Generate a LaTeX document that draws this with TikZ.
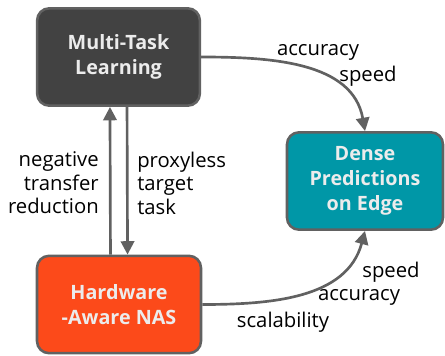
\documentclass[tikz,border=0pt]{standalone}
\usepackage{fontspec}
\setmainfont{Open Sans}
\usetikzlibrary{arrows.meta,positioning}
\definecolor{boxgray}{RGB}{66,66,66}
\definecolor{edgegray}{RGB}{97,97,97}
\definecolor{nasorange}{RGB}{252,74,26}
\definecolor{edgeteal}{RGB}{0,151,167}
\definecolor{boxtext}{RGB}{236,236,236}
\tikzset{
  block/.style={draw=edgegray,line width=1.9pt,rounded corners=9pt,
    minimum width=122pt,minimum height=73pt,align=center,text=boxtext,
    font=\fontsize{14.8}{18.8}\selectfont\bfseries},
  link/.style={draw=edgegray,line width=2pt,-{Triangle[length=10pt,width=10pt]}},
  tag/.style={font=\fontsize{15.2}{17.6}\selectfont,text=black,inner sep=0pt}
}
\begin{document}
\begin{tikzpicture}[x=0.75pt,y=-0.75pt]
\useasboundingbox (0,0) rectangle (445,356);
%% Boxes
\node[block,fill=boxgray] (mtl) at (118.5,57){Multi-Task\\Learning};
\node[block,fill=nasorange,minimum width=123pt] (nas) at (119,304.5){Hardware\\-Aware NAS};
\node[block,fill=edgeteal,minimum width=117pt] (dense) at (365,181){Dense\\Predictions\\on Edge};
%% Arrows
\draw[link] ([xshift=-6.4pt]nas.north) -- ([xshift=-6.4pt]mtl.south);
\draw[link] ([xshift=6.4pt]mtl.south) -- ([xshift=6.4pt]nas.north);
\draw[link] (mtl.east) to[out=0,in=100] (dense.north);
\draw[link] (nas.east) to[out=0,in=-105] (dense.south);
%% Labels
\node[tag,align=right,anchor=east] (lneg) at (99,183){negative\\transfer\\reduction};
\node[tag,align=left,anchor=west] (lprox) at (137,183){proxyless\\target\\task};
\node[tag] (lacc) at (318,52){accuracy};
\node[tag] (lspd) at (368,76){speed};
\node[tag] (bspd) at (391,272){speed};
\node[tag] (bacc) at (359,297){accuracy};
\node[tag] (bscal) at (283,322){scalability};
\end{tikzpicture}
\end{document}
